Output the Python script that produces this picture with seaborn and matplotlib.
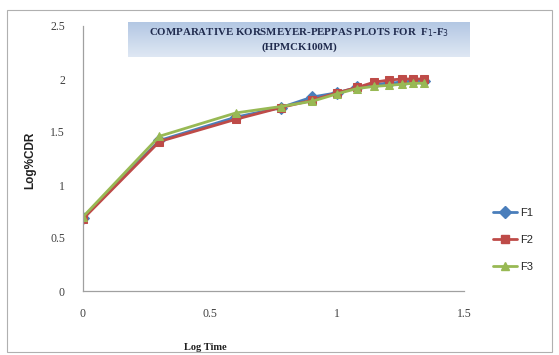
import numpy as np
import pandas as pd
import seaborn as sns
import matplotlib
matplotlib.use("Agg")
import matplotlib.pyplot as plt
from matplotlib.patches import Rectangle
from matplotlib.lines import Line2D
from matplotlib.colors import LinearSegmentedColormap

log_time = [0.0, 0.301, 0.602, 0.778, 0.903, 1.0, 1.079, 1.146, 1.204, 1.255, 1.301, 1.342]
f1 = [0.69, 1.42, 1.64, 1.73, 1.83, 1.87, 1.92, 1.95, 1.96, 1.97, 1.98, 1.98]
f2 = [0.68, 1.41, 1.62, 1.73, 1.80, 1.87, 1.92, 1.97, 1.99, 2.00, 2.00, 2.00]
f3 = [0.70, 1.46, 1.68, 1.74, 1.79, 1.86, 1.91, 1.93, 1.94, 1.95, 1.96, 1.96]
series_names = ["F1", "F2", "F3"]
x_ticks = [0, 0.5, 1, 1.5]
x_tick_labels = ["0", "0.5", "1", "1.5"]
y_ticks = [0, 0.5, 1, 1.5, 2, 2.5]
y_tick_labels = ["0", "0.5", "1", "1.5", "2", "2.5"]

df = pd.DataFrame({
    "Log Time": log_time * 3,
    "Log%CDR": f1 + f2 + f3,
    "Formulation": [n for n in series_names for _ in log_time],
})

colors = {"F1": "#4a7ebb", "F2": "#be4b48", "F3": "#98b954"}
markers = {"F1": "D", "F2": "s", "F3": "^"}

sns.set_style("white")
fig = plt.figure(figsize=(5.59, 3.55), dpi=100)
ax = fig.add_axes([83/559, 1-291/355, 381/559, 265/355])

sns.lineplot(data=df, x="Log Time", y="Log%CDR", hue="Formulation", style="Formulation",
             palette=colors, markers=markers, dashes=False, markersize=6,
             linewidth=2.0, ax=ax, legend=False, sort=False)
for line, n in zip(ax.get_lines(), series_names):
    line.set_markeredgecolor(colors[n])

ax.set_xlim(0, 1.5)
ax.set_ylim(0, 2.5)
ax.set_xticks(x_ticks)
ax.set_xticklabels(x_tick_labels)
ax.set_yticks(y_ticks)
ax.set_yticklabels(y_tick_labels)
for s in ["top", "right"]:
    ax.spines[s].set_visible(False)
for s in ["left", "bottom"]:
    ax.spines[s].set_color("#a0a0a0")
    ax.spines[s].set_linewidth(0.9)
ax.tick_params(axis="both", length=3, width=0.8, color="#a0a0a0", labelsize=8.5,
               labelcolor="#404040", direction="out")
ax.tick_params(axis="x", pad=9)
ax.tick_params(axis="y", pad=10)
for t in ax.get_xticklabels() + ax.get_yticklabels():
    t.set_family("Liberation Serif")

ax.set_xlabel("")
ax.set_ylabel("")
fig.text(205/559, 1-348/355, "Log Time", ha="center", va="center", fontsize=7.5,
         fontweight="bold", family="Liberation Serif", color="#202020")
fig.text(30/559, 1-160/355, "Log%CDR", ha="center", va="center", rotation=90,
         fontsize=8.5, fontweight="bold", family="Liberation Sans", color="#202020")

# Title box with gradient
grad = np.linspace(0, 1, 100).reshape(-1, 1)
cmap = LinearSegmentedColormap.from_list("g", ["#dfe8f4", "#b3c7e3"])
tax = fig.add_axes([128/559, 1-57/355, 342/559, 35/355])
tax.imshow(grad, aspect="auto", cmap=cmap, extent=[0, 1, 0, 1], origin="lower")
tax.set_xlim(0, 1)
tax.set_ylim(0, 1)
tax.axis("off")
tax.text(0.5, 0.70, r"COMPARATIVE KORSMEYER-PEPPAS PLOTS FOR  F$_1$-F$_3$",
         ha="center", va="center", fontsize=7.8, fontweight="bold",
         family="Liberation Serif", color="#1f2a4d")
tax.text(0.5, 0.28, "(HPMCK100M)", ha="center", va="center", fontsize=7.8,
         fontweight="bold", family="Liberation Serif", color="#1f2a4d")

# Legend
handles = [Line2D([0], [0], color=colors[n], marker=markers[n], markersize=6,
                  linewidth=2.0, markeredgecolor=colors[n]) for n in series_names]
fig.legend(handles, series_names, loc="center left", bbox_to_anchor=(483/559, 1-240/355),
           frameon=False, handlelength=2.2, handletextpad=0.2,
           labelspacing=1.5, prop={"family": "Liberation Sans", "size": 8})

# Figure border
fig.patches.append(Rectangle((7/559, 1-352/355), 545/559, 342/355, transform=fig.transFigure,
                             fill=False, edgecolor="#b0b0b0", linewidth=0.8))

fig.savefig("out.png", dpi=100)
